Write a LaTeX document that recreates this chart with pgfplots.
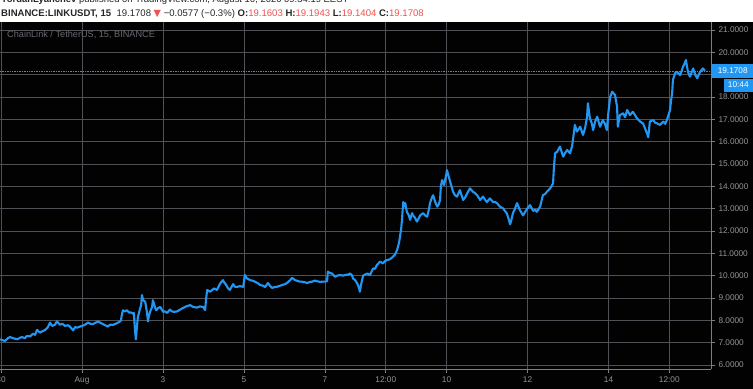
\documentclass[border=0pt]{standalone}
\usepackage{pgfplots}
\pgfplotsset{compat=1.18}
\usepackage{fontspec}
\setmainfont{Liberation Sans}
\newfontfamily\dejavu{DejaVu Sans}
\definecolor{tvblue}{RGB}{33,150,243}
\definecolor{tvred}{RGB}{239,83,80}
\definecolor{gridc}{RGB}{80,80,86}
\definecolor{axc}{RGB}{125,125,130}
\definecolor{labc}{RGB}{150,150,155}
\definecolor{wmc}{RGB}{105,105,112}
\definecolor{bg}{RGB}{2,2,2}
\begin{document}
\begin{tikzpicture}
\path[use as bounding box] (0,0) rectangle (753bp,389bp);
\fill[bg] (0,0) rectangle (753bp,367bp);
\fill[white] (0,367bp) rectangle (753bp,389bp);
\begin{axis}[
  at={(0,20bp)}, anchor=south west, scale only axis,
  width=711bp, height=347bp,
  xmin=-0.025, xmax=17.53, ymin=5.82, ymax=21.36,
  axis x line*=bottom, axis y line*=right,
  axis line style={axc, line width=0.8bp},
  tick style={axc, line width=0.8bp},
  tick align=outside, major tick length=4bp,
  grid=major, major grid style={gridc, line width=0.8bp},
  ytick={6,7,8,9,10,11,12,13,14,15,16,17,18,19,20,21},
  yticklabels={6.0000,7.0000,8.0000,9.0000,10.0000,11.0000,12.0000,13.0000,14.0000,15.0000,16.0000,17.0000,18.0000,19.0000,20.0000,21.0000},
  yticklabel style={labc, font=\fontsize{8.3}{9}\selectfont, anchor=west},
  xtick={0,2,4,6,8,9.5,11,13,15,16.5},
  xticklabels={30,Aug,3,5,7,12:00,10,12,14,12:00},
  xticklabel style={labc, font=\fontsize{8.3}{9}\selectfont},
  clip mode=individual,
]
\addplot[tvblue, line width=0.7bp, densely dotted] coordinates {(-0.025,19.1708) (17.53,19.1708)};
\addplot[tvblue, line width=2.1bp, line join=round] table {
x y
-0.02 7.15
0.05 7.10
0.10 7.08
0.17 7.20
0.22 7.25
0.30 7.20
0.40 7.15
0.47 7.22
0.52 7.25
0.59 7.20
0.64 7.30
0.72 7.28
0.79 7.40
0.84 7.35
0.89 7.57
0.96 7.45
1.01 7.50
1.09 7.57
1.16 7.70
1.21 7.90
1.26 7.75
1.33 7.80
1.38 7.95
1.46 7.80
1.51 7.85
1.58 7.75
1.65 7.78
1.70 7.72
1.78 7.55
1.83 7.70
1.88 7.67
1.95 7.72
2.00 7.75
2.07 7.80
2.15 7.90
2.20 7.85
2.27 7.83
2.32 7.88
2.40 7.95
2.44 7.90
2.52 7.83
2.57 7.78
2.64 7.72
2.69 7.80
2.77 7.80
2.84 7.85
2.89 7.90
2.94 7.95
2.96 8.00
2.99 8.30
3.01 8.45
3.06 8.40
3.11 8.45
3.16 8.35
3.21 8.35
3.26 8.30
3.28 8.33
3.31 7.50
3.33 7.15
3.36 7.80
3.38 8.15
3.43 8.50
3.46 8.68
3.48 9.13
3.51 8.90
3.56 8.83
3.60 8.40
3.63 7.95
3.65 8.20
3.68 8.38
3.73 8.60
3.75 8.90
3.80 8.60
3.83 8.45
3.88 8.55
3.93 8.60
3.98 8.45
4.00 8.38
4.05 8.40
4.10 8.33
4.17 8.48
4.22 8.40
4.27 8.38
4.35 8.40
4.42 8.48
4.49 8.55
4.57 8.62
4.67 8.68
4.74 8.60
4.84 8.57
4.91 8.62
4.99 8.60
5.04 8.46
5.06 8.90
5.09 9.36
5.16 9.28
5.21 9.35
5.26 9.43
5.33 9.36
5.41 9.65
5.48 9.80
5.51 9.70
5.56 9.58
5.60 9.45
5.65 9.36
5.73 9.62
5.78 9.50
5.83 9.50
5.90 9.53
5.98 9.50
6.02 10.03
6.07 9.88
6.15 9.80
6.20 9.78
6.27 9.73
6.35 9.65
6.40 9.58
6.47 9.55
6.52 9.49
6.59 9.67
6.64 9.55
6.69 9.45
6.77 9.50
6.81 9.50
6.89 9.55
6.94 9.58
7.01 9.62
7.06 9.67
7.14 9.80
7.19 9.90
7.26 9.80
7.31 9.77
7.38 9.73
7.43 9.73
7.51 9.70
7.56 9.67
7.63 9.72
7.68 9.73
7.75 9.78
7.80 9.75
7.88 9.72
7.93 9.73
8.00 9.73
8.05 9.75
8.07 10.18
8.12 10.12
8.17 10.10
8.25 9.95
8.30 10.00
8.37 10.03
8.44 10.00
8.49 10.03
8.57 10.05
8.62 10.10
8.67 10.00
8.69 9.88
8.74 9.80
8.79 9.67
8.84 9.45
8.86 9.28
8.89 9.60
8.94 10.00
8.99 10.05
9.04 10.10
9.11 10.03
9.19 10.33
9.23 10.30
9.28 10.48
9.36 10.63
9.43 10.55
9.48 10.65
9.53 10.70
9.60 10.73
9.68 10.85
9.73 10.95
9.78 11.15
9.83 11.50
9.85 11.74
9.88 12.10
9.90 12.50
9.93 13.30
9.95 13.10
9.98 13.25
10.02 12.86
10.07 12.70
10.10 12.50
10.15 12.80
10.17 12.70
10.22 12.60
10.27 12.42
10.35 12.70
10.42 12.80
10.47 12.70
10.52 12.64
10.57 13.00
10.59 13.24
10.64 13.50
10.67 13.60
10.72 13.30
10.77 13.09
10.81 13.20
10.84 13.39
10.86 14.00
10.89 14.28
10.94 14.06
10.99 14.50
11.01 14.73
11.06 14.40
11.09 14.20
11.14 13.90
11.16 13.76
11.21 13.60
11.26 13.54
11.33 13.83
11.41 13.39
11.46 13.50
11.51 13.69
11.58 13.91
11.65 13.76
11.70 13.70
11.75 13.61
11.83 13.39
11.90 13.54
11.95 13.40
12.00 13.30
12.07 13.46
12.15 13.30
12.20 13.30
12.25 13.24
12.32 13.09
12.40 13.01
12.44 12.90
12.49 12.79
12.54 12.50
12.57 12.30
12.59 12.42
12.64 12.80
12.69 13.00
12.74 13.25
12.81 12.94
12.89 12.70
12.94 12.85
12.99 13.00
13.06 13.16
13.14 12.90
13.19 12.95
13.23 12.86
13.31 13.09
13.38 13.61
13.43 13.65
13.48 13.76
13.56 13.91
13.63 14.13
13.65 14.80
13.68 15.48
13.73 15.55
13.80 15.78
13.88 15.33
13.93 15.50
13.98 15.63
14.05 15.48
14.10 15.80
14.12 16.07
14.17 16.75
14.22 16.45
14.30 16.67
14.37 16.30
14.42 16.60
14.47 17.12
14.49 17.72
14.54 17.05
14.59 16.80
14.62 16.52
14.67 16.90
14.72 17.12
14.79 16.67
14.86 16.97
14.91 16.80
14.96 16.52
14.99 17.20
15.04 18.00
15.09 18.24
15.16 18.09
15.21 17.57
15.23 16.67
15.28 17.19
15.36 17.27
15.41 17.10
15.46 17.42
15.53 17.19
15.60 17.34
15.65 17.20
15.70 17.05
15.78 16.90
15.85 16.82
15.90 16.60
15.95 16.37
15.98 16.20
16.02 16.90
16.10 16.97
16.15 16.85
16.20 16.82
16.27 16.75
16.35 16.90
16.40 16.80
16.44 16.97
16.52 17.42
16.54 17.80
16.57 18.17
16.59 18.76
16.64 19.06
16.69 19.13
16.77 18.98
16.84 19.36
16.89 19.55
16.91 19.66
16.96 19.13
17.01 18.91
17.09 19.28
17.14 19.00
17.19 18.84
17.26 19.13
17.33 19.28
17.38 19.17
};
\coordinate (pl) at (axis cs:17.53,19.1708);
\end{axis}
\node[fill=tvblue, anchor=west, minimum height=13.5bp, minimum width=41bp, inner sep=0pt, text=white, font=\fontsize{8.3}{9}\selectfont] at ([xshift=1bp]pl) {19.1708};
\node[fill=tvblue, anchor=north east, minimum height=13bp, minimum width=29bp, inner sep=0pt, text=white, font=\fontsize{8.3}{9}\selectfont] at ([shift={(42bp,-7.5bp)}]pl) {10:44};
\node[anchor=west, inner sep=0pt, text=wmc, font=\fontsize{9.2}{10}\selectfont] at (7bp,354bp) {ChainLink / TetherUS, 15, BINANCE};
\node[anchor=base west, inner sep=0pt, text=black!85, font=\fontsize{9.5}{10}\selectfont] at (1bp,386bp) {\textbf{YordanLyanchev} published on TradingView.com, August 16, 2020 09:34:19 EEST};
\node[anchor=base west, inner sep=0pt, text=black!85, font=\fontsize{9.6}{10}\selectfont] at (1bp,372bp) {\textbf{BINANCE:LINKUSDT, 15}\ \ 19.1708 {\color{tvred}\dejavu ▼} −0.0577 (−0.3\%) \textbf{O:}{\color{tvred}19.1603} \textbf{H:}{\color{tvred}19.1943} \textbf{L:}{\color{tvred}19.1404} \textbf{C:}{\color{tvred}19.1708}};
\end{tikzpicture}
\end{document}
